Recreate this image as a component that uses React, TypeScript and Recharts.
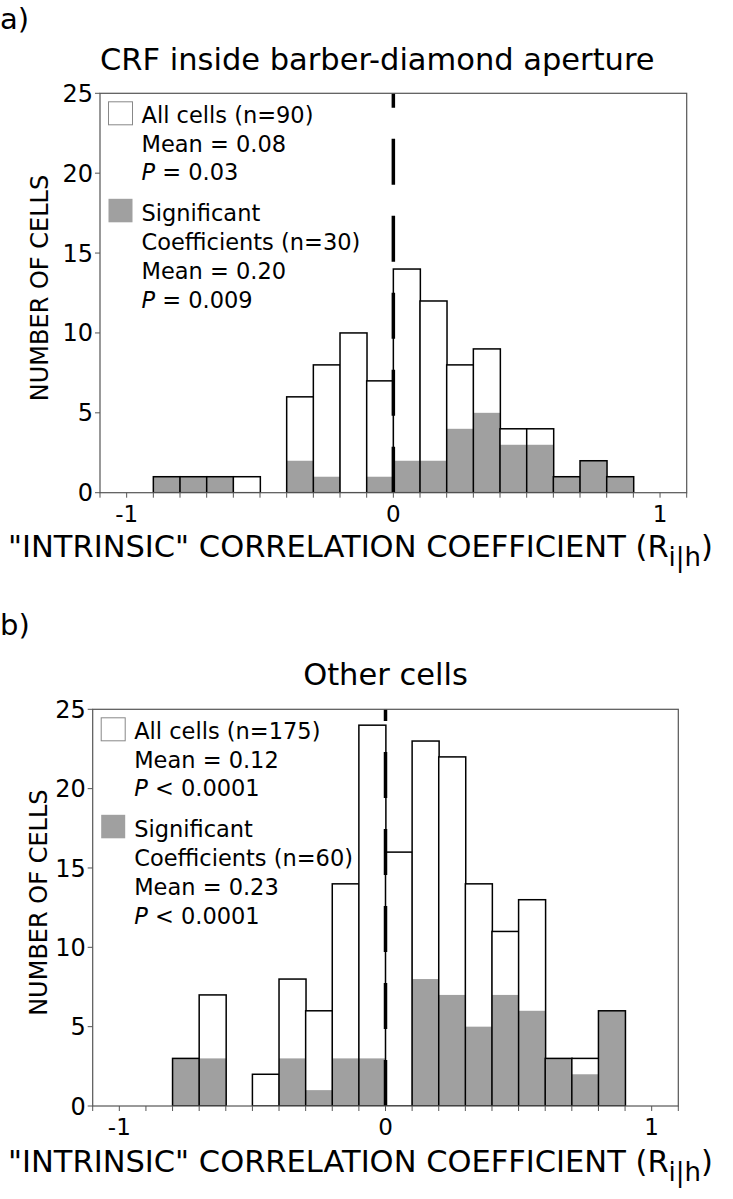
import React from "react";
import { Bar, ComposedChart, ReferenceLine, XAxis, YAxis } from "recharts";

// Two stacked histograms of "intrinsic" correlation coefficients.
// Bins are 0.1 wide; the axis runs from -1.1 to 1.1 so the outer bins stay empty.

const FONT = "'DejaVu Sans', 'Liberation Sans', sans-serif";
const GREY = "#a0a0a0";
const FRAME = "#555";

// lower edge of every 0.1-wide bin on the axis
const BIN_LOWER = [
  -1.1, -1.0, -0.9, -0.8, -0.7, -0.6, -0.5, -0.4, -0.3, -0.2, -0.1,
  0.0, 0.1, 0.2, 0.3, 0.4, 0.5, 0.6, 0.7, 0.8, 0.9, 1.0,
];

// panel a) CRF inside barber-diamond aperture
const ALL_A = [0, 0, 1, 1, 1, 1, 0, 6, 8, 10, 7, 14, 12, 8, 9, 4, 4, 1, 2, 1, 0, 0];
const SIG_A = [0, 0, 1, 1, 1, 0, 0, 2, 1, 0, 1, 2, 2, 4, 5, 3, 3, 1, 2, 1, 0, 0];

// panel b) Other cells
const ALL_B = [0, 0, 0, 3, 7, 0, 2, 8, 6, 14, 24, 16, 23, 22, 14, 11, 13, 3, 3, 6, 0, 0];
const SIG_B = [0, 0, 0, 3, 3, 0, 0, 3, 1, 3, 3, 0, 8, 7, 5, 7, 6, 3, 2, 6, 0, 0];

const X_LABELS = [-1, 0, 1];
const Y_TICKS = [0, 5, 10, 15, 20, 25];

const STATS_A = {
  all: { n: 90, mean: "0.08", p: "= 0.03" },
  sig: { n: 30, mean: "0.20", p: "= 0.009" },
};
const STATS_B = {
  all: { n: 175, mean: "0.12", p: "< 0.0001" },
  sig: { n: 60, mean: "0.23", p: "< 0.0001" },
};

interface Geometry {
  top: number; // panel top on the page
  height: number;
  plotLeft: number;
  plotRight: number;
  plotTop: number; // absolute page coords
  plotBottom: number;
}

const GEO_A: Geometry = { top: 0, height: 600, plotLeft: 100, plotRight: 686.7, plotTop: 93.3, plotBottom: 492.7 };
const GEO_B: Geometry = { top: 600, height: 599, plotLeft: 92.7, plotRight: 678.3, plotTop: 709.3, plotBottom: 1106 };

const Y_AXIS_W = 60;
const X_AXIS_H = 30;

// Tick marks sit on bin edges (left edge of each band), labels only at -1, 0, 1.
function EdgeTick(props: any) {
  const { x, y, payload, half } = props;
  const v = payload.value as number;
  const ex = x - half;
  const isLast = v === BIN_LOWER[BIN_LOWER.length - 1];
  const label = X_LABELS.find((l) => Math.abs(l - v) < 1e-9);
  return (
    <g>
      <line x1={ex} x2={ex} y1={y} y2={y + 5} stroke={FRAME} />
      {isLast && <line x1={x + half} x2={x + half} y1={y} y2={y + 5} stroke={FRAME} />}
      {label !== undefined && (
        <text x={ex} y={y + 13} dy="0.71em" textAnchor="middle" fontSize={23} fill="#000">
          {String(label)}
        </text>
      )}
    </g>
  );
}

// White body with the significant part in grey at the bottom, black outline.
function HistBar(props: any) {
  const { x, y, width, height, payload } = props;
  if (!height || !payload.all) return null;
  const sigH = (height * payload.sig) / payload.all;
  return (
    <g>
      <rect x={x} y={y} width={width} height={height} fill="#fff" />
      {sigH > 0 && <rect x={x} y={y + height - sigH} width={width} height={sigH} fill={GREY} />}
      <rect x={x} y={y} width={width} height={height} fill="none" stroke="#000" strokeWidth={1.5} />
    </g>
  );
}

function Histogram({ geo, all, sig }: { geo: Geometry; all: number[]; sig: number[] }) {
  const data = BIN_LOWER.map((b, i) => ({ bin: b, all: all[i], sig: sig[i] }));
  const margin = {
    top: geo.plotTop - geo.top,
    left: geo.plotLeft - Y_AXIS_W,
    right: 733 - geo.plotRight,
    bottom: geo.top + geo.height - geo.plotBottom - X_AXIS_H,
  };
  const half = (geo.plotRight - geo.plotLeft) / BIN_LOWER.length / 2;
  return (
    <div style={{ position: "absolute", left: 0, top: geo.top }}>
      <ComposedChart
        width={733}
        height={geo.height}
        data={data}
        margin={margin}
        barCategoryGap={0}
        barGap={0}
      >
        <XAxis
          dataKey="bin"
          type="category"
          height={X_AXIS_H}
          interval={0}
          axisLine={false}
          tickLine={false}
          tickSize={0}
          tickMargin={0}
          tick={(p: any) => <EdgeTick {...p} half={half} />}
        />
        <YAxis
          type="number"
          domain={[0, 25]}
          ticks={Y_TICKS}
          allowDataOverflow
          interval={0}
          width={Y_AXIS_W}
          axisLine={false}
          tickSize={5}
          tickMargin={2}
          tickLine={{ stroke: FRAME }}
          tick={{ fill: "#000", fontSize: 24 }}
        />
        <Bar dataKey="all" shape={<HistBar />} isAnimationActive={false} />
        <ReferenceLine
          x={0}
          position="start"
          stroke="#000"
          strokeWidth={3.5}
          strokeDasharray="46 31"
        />
      </ComposedChart>
    </div>
  );
}

type Stats = typeof STATS_A;

function StatsLegend({ geo, stats }: { geo: Geometry; stats: Stats }) {
  const x = geo.plotLeft;
  const y = geo.plotTop;
  const tx = x + 41.5;
  const base = (c: number) => y + c + 8.2;
  return (
    <g fontSize={22.5} fill="#000">
      <rect x={x + 8.5} y={y + 8.5} width={24} height={23} fill="#fff" stroke="#888" strokeWidth={1} />
      <rect x={x + 8.5} y={y + 105.5} width={24} height={23.5} fill={GREY} />
      <text x={tx} y={base(21)}>{`All cells (n=${stats.all.n})`}</text>
      <text x={tx} y={base(50)}>{`Mean = ${stats.all.mean}`}</text>
      <text x={tx} y={base(78)}>
        <tspan fontStyle="italic">P</tspan>
        {` ${stats.all.p}`}
      </text>
      <text x={tx} y={base(119)}>Significant</text>
      <text x={tx} y={base(148)}>{`Coefficients (n=${stats.sig.n})`}</text>
      <text x={tx} y={base(177)}>{`Mean = ${stats.sig.mean}`}</text>
      <text x={tx} y={base(206)}>
        <tspan fontStyle="italic">P</tspan>
        {` ${stats.sig.p}`}
      </text>
    </g>
  );
}

function Frame({ geo }: { geo: Geometry }) {
  return (
    <rect
      x={geo.plotLeft}
      y={geo.plotTop}
      width={geo.plotRight - geo.plotLeft}
      height={geo.plotBottom - geo.plotTop}
      fill="none"
      stroke={FRAME}
      strokeWidth={1.2}
    />
  );
}

function AxisTitles({ geo, xBase }: { geo: Geometry; xBase: number }) {
  const cy = (geo.plotTop + geo.plotBottom) / 2 - 5;
  return (
    <g fill="#000">
      <text
        x={47.5}
        y={cy}
        fontSize={24}
        textAnchor="middle"
        transform={`rotate(-90 47.5 ${cy})`}
      >
        NUMBER OF CELLS
      </text>
      <text x={8} y={xBase} fontSize={30.5}>
        "INTRINSIC" CORRELATION COEFFICIENT (R
        <tspan fontSize={26} dy={9}>i|h</tspan>
        <tspan dy={-9}>)</tspan>
      </text>
    </g>
  );
}

export default function App() {
  return (
    <div
      style={{
        position: "absolute",
        left: 0,
        top: 0,
        width: 733,
        height: 1199,
        background: "#fff",
        fontFamily: FONT,
      }}
    >
      <Histogram geo={GEO_A} all={ALL_A} sig={SIG_A} />
      <Histogram geo={GEO_B} all={ALL_B} sig={SIG_B} />
      <svg
        width={733}
        height={1199}
        style={{ position: "absolute", left: 0, top: 0, pointerEvents: "none" }}
        fontFamily={FONT}
      >
        <Frame geo={GEO_A} />
        <Frame geo={GEO_B} />

        <text x={0} y={29} fontSize={29}>a)</text>
        <text x={100} y={70} fontSize={30.5}>CRF inside barber-diamond aperture</text>
        <StatsLegend geo={GEO_A} stats={STATS_A} />
        <AxisTitles geo={GEO_A} xBase={557} />

        <text x={0} y={635} fontSize={29}>b)</text>
        <text x={385.5} y={685} fontSize={30.5} textAnchor="middle">Other cells</text>
        <StatsLegend geo={GEO_B} stats={STATS_B} />
        <AxisTitles geo={GEO_B} xBase={1172} />
      </svg>
    </div>
  );
}
